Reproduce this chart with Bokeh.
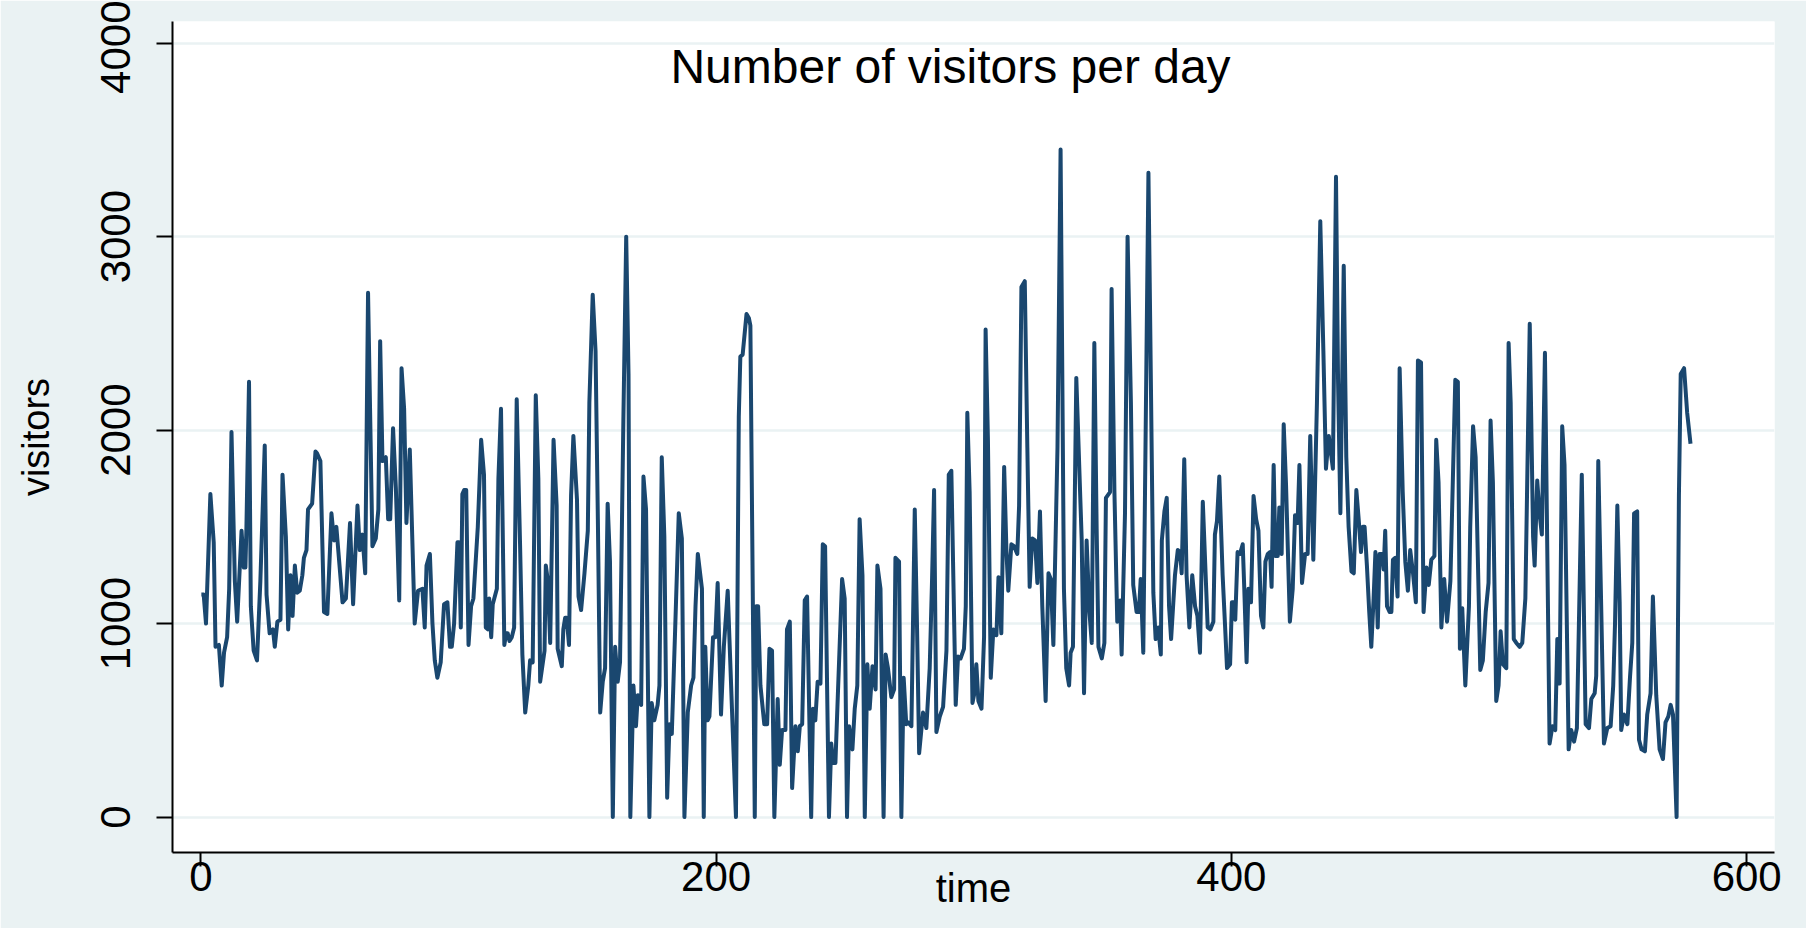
from bokeh.plotting import figure
from bokeh.models import Label, Range1d
from bokeh.embed import file_html
from bokeh.resources import INLINE

time = [0.2, 1.1, 2.0, 3.7, 5.0, 5.7, 7.0, 8.1, 9.0, 10.2, 11.0, 11.9, 13.2, 14.1, 15.8, 16.7, 17.3, 17.7, 18.7, 19.4,
        20.5, 21.8, 23.1, 24.8, 25.5, 26.7, 28.0, 28.7, 29.7, 30.9, 31.7, 33.0, 33.9, 34.8, 35.6, 36.5, 37.4, 38.4, 39.4, 40.0,
        41.0, 41.6, 43.2, 44.5, 45.1, 46.4, 47.8, 49.1, 50.7, 51.7, 52.6, 55.0, 56.3, 57.9, 59.1, 60.8, 61.7, 62.7, 63.8, 64.9,
        66.6, 67.9, 68.9, 69.6, 70.5, 71.8, 72.7, 73.5, 74.6, 75.7, 77.0, 77.9, 78.9, 79.8, 81.1, 83.0, 84.3, 86.0, 86.9, 87.6,
        88.9, 89.9, 90.8, 91.8, 93.1, 94.4, 95.7, 96.7, 97.4, 98.3, 99.6, 100.2, 100.9, 101.5, 102.2, 103.0, 103.9, 104.9, 105.8, 107.5,
        108.8, 109.9, 110.6, 111.4, 111.9, 112.7, 113.3, 114.9, 115.5, 116.5, 117.8, 118.5, 119.1, 119.8, 120.7, 121.6, 122.6, 123.9, 124.8, 125.9,
        127.1, 127.8, 128.8, 130.0, 131.0, 131.7, 133.4, 133.9, 134.7, 135.6, 136.9, 138.1, 138.5, 140.1, 140.7, 141.4, 142.0, 142.9, 143.7, 144.6,
        146.0, 146.6, 147.6, 148.9, 150.2, 150.8, 152.1, 153.2, 154.1, 155.0, 156.0, 156.9, 157.9, 158.8, 159.9, 160.8, 161.8, 162.7, 164.0, 165.1,
        166.0, 166.7, 167.9, 168.9, 169.6, 170.9, 171.8, 172.8, 174.1, 175.0, 176.0, 177.3, 178.0, 178.9, 179.9, 181.0, 181.9, 182.8, 184.1, 185.5,
        186.7, 187.7, 189.0, 190.3, 191.2, 192.0, 192.9, 194.5, 195.2, 195.8, 196.7, 197.4, 198.8, 199.7, 200.6, 201.9, 203.0, 204.5, 206.2, 207.7,
        208.8, 209.4, 210.3, 211.8, 212.7, 213.3, 215.0, 215.6, 216.3, 217.2, 218.7, 219.8, 220.7, 221.7, 222.6, 223.9, 224.7, 225.6, 226.9, 227.5,
        228.6, 229.5, 230.8, 231.7, 232.5, 233.4, 234.4, 235.3, 236.9, 237.6, 238.5, 239.4, 240.5, 241.4, 242.3, 243.8, 244.7, 245.4, 246.3, 247.3,
        248.9, 249.9, 250.8, 251.6, 252.9, 253.8, 254.8, 255.7, 256.8, 257.7, 258.7, 259.6, 260.7, 261.9, 262.6, 263.8, 265.0, 265.8, 266.7, 268.0,
        269.1, 269.6, 271.0, 271.9, 272.8, 273.8, 274.5, 275.8, 277.1, 278.0, 278.8, 280.3, 281.6, 282.9, 283.8, 284.6, 285.5, 286.8, 288.1, 289.4,
        290.3, 291.3, 293.0, 293.9, 294.9, 296.2, 296.9, 297.5, 298.4, 299.5, 300.1, 301.0, 301.8, 303.0, 304.0, 304.6, 305.5, 306.6, 307.6, 308.8,
        309.6, 310.7, 311.8, 312.7, 313.4, 314.6, 315.6, 316.9, 317.6, 318.5, 319.8, 320.8, 321.7, 322.7, 323.8, 324.7, 325.7, 326.6, 327.9, 329.0,
        329.9, 330.9, 332.5, 333.7, 335.0, 335.9, 337.0, 337.6, 338.5, 339.8, 341.9, 342.8, 343.8, 344.9, 345.8, 346.8, 347.7, 348.4, 349.7, 350.7,
        351.3, 352.9, 353.5, 354.6, 355.7, 356.8, 357.4, 358.7, 359.7, 361.0, 361.9, 363.2, 364.1, 364.8, 365.8, 367.8, 369.7, 370.6, 371.6, 372.6,
        373.0, 374.0, 374.9, 375.8, 376.6, 378.1, 379.2, 380.1, 380.7, 381.7, 382.6, 383.7, 384.8, 385.9, 386.8, 387.8, 388.9, 390.8, 391.8, 393.0,
        393.6, 394.4, 395.3, 396.6, 397.5, 398.3, 399.5, 400.2, 400.9, 401.5, 402.4, 403.3, 404.4, 405.0, 405.9, 406.6, 407.6, 408.6, 409.6, 410.5,
        411.5, 412.4, 413.2, 414.1, 415.0, 415.6, 416.4, 417.1, 418.0, 418.6, 419.5, 420.3, 421.2, 422.7, 423.8, 424.7, 425.7, 426.4, 427.4, 428.6,
        429.6, 430.6, 431.8, 433.2, 434.5, 435.7, 436.7, 437.8, 439.4, 440.6, 441.4, 442.3, 443.6, 444.6, 445.5, 446.6, 447.5, 448.5, 449.4, 450.3,
        451.0, 451.7, 452.6, 453.5, 454.3, 455.2, 455.9, 456.8, 457.5, 458.5, 459.1, 459.7, 460.4, 461.4, 462.1, 462.7, 463.6, 464.5, 465.3, 466.5,
        467.5, 468.5, 469.4, 470.5, 471.6, 472.4, 473.6, 474.6, 475.7, 476.6, 477.6, 478.8, 479.5, 480.4, 481.5, 482.6, 483.7, 485.0, 486.9, 487.9,
        488.7, 489.6, 490.8, 492.2, 492.7, 493.8, 494.8, 496.6, 497.6, 498.7, 499.8, 500.6, 501.5, 502.8, 503.7, 504.5, 505.4, 506.7, 507.6, 508.4,
        509.6, 510.6, 511.9, 512.9, 514.1, 515.8, 517.1, 517.7, 518.7, 519.6, 520.5, 521.7, 523.5, 524.6, 525.7, 526.5, 527.4, 528.4, 529.3, 530.9,
        531.9, 533.0, 534.1, 536.0, 537.5, 538.8, 539.7, 541.0, 541.6, 542.4, 544.6, 545.9, 547.2, 548.2, 548.9, 549.8, 550.7, 551.3, 552.4, 553.7,
        554.7, 555.6, 556.3, 557.5, 558.2, 559.2, 560.5, 561.4, 562.7, 563.6, 564.9, 566.2, 567.5, 568.5, 569.6, 570.5, 571.4, 572.8, 573.7, 574.4,
        575.7, 576.9, 578.2]

visitors = [1150, 1150, 1000, 1670, 1420, 880, 890, 680, 850, 930, 1180, 1990, 1220, 1010, 1480, 1290, 1290, 1500, 2250, 1090,
            860, 810, 1220, 1920, 1150, 950, 970, 880, 1010, 1020, 1770, 1450, 970, 1250, 1040, 1300, 1160, 1170, 1250, 1340,
            1380, 1590, 1620, 1890, 1880, 1840, 1060, 1050, 1570, 1430, 1500, 1110, 1130, 1520, 1100, 1610, 1380, 1460, 1260, 2710,
            1400, 1440, 1590, 2460, 1840, 1860, 1540, 1540, 2010, 1700, 1120, 2320, 2110, 1520, 1900, 1000, 1170, 1180, 980, 1300,
            1360, 1000, 810, 720, 800, 1100, 1110, 880, 880, 1000, 1420, 1420, 980, 1670, 1690, 1690, 890, 1090, 1130, 1500,
            1950, 1770, 980, 970, 1130, 930, 1100, 1180, 1750, 2110, 890, 950, 950, 910, 930, 980, 2160, 1410, 840, 540,
            680, 810, 800, 2180, 1750, 700, 860, 1300, 1220, 900, 1950, 1610, 870, 780, 970, 1030, 1030, 890, 1660, 1970,
            1640, 1140, 1070, 1260, 1480, 2140, 2700, 2410, 1540, 540, 700, 770, 1620, 1320, 0, 880, 700, 800, 2050, 3000,
            2290, 0, 680, 470, 630, 580, 1760, 1590, 0, 590, 500, 580, 680, 1860, 1450, 100, 480, 430, 970, 1570,
            1440, 0, 540, 680, 720, 1090, 1360, 1180, 0, 880, 500, 520, 930, 930, 1210, 530, 880, 1170, 540, 0,
            2070, 2380, 2390, 2600, 2580, 2540, 0, 1090, 1090, 680, 480, 480, 870, 860, 0, 610, 270, 450, 450, 970,
            1010, 150, 470, 340, 470, 480, 1120, 1140, 0, 560, 500, 700, 690, 1410, 1400, 0, 380, 280, 280, 650,
            1230, 1130, 0, 470, 350, 560, 680, 1540, 1250, 0, 790, 560, 780, 660, 1300, 1180, 0, 840, 770, 620,
            660, 1340, 1320, 0, 720, 480, 490, 470, 1590, 970, 330, 540, 460, 770, 1220, 1690, 440, 520, 570, 860,
            1770, 1790, 580, 830, 820, 870, 1090, 2090, 1680, 590, 630, 790, 600, 560, 930, 2520, 1950, 720, 970, 940,
            1240, 950, 1810, 1370, 1170, 1410, 1400, 1360, 1610, 2740, 2770, 1910, 1190, 1440, 1430, 1210, 1580, 1090, 600, 1260,
            1230, 890, 1910, 3450, 1180, 770, 680, 850, 880, 2270, 1430, 640, 1430, 1060, 900, 2450, 1490, 880, 820, 900,
            1650, 1680, 2730, 1680, 1010, 1120, 840, 1570, 3000, 2140, 1200, 1060, 1060, 1230, 850, 3330, 1160, 920, 980, 840,
            1430, 1580, 1650, 1090, 920, 1250, 1380, 1370, 1260, 1850, 1250, 980, 1250, 1090, 1040, 850, 1630, 980, 970, 1010,
            1460, 1530, 1760, 1250, 1000, 770, 790, 1110, 1110, 1020, 1370, 1360, 1410, 1180, 800, 1180, 1110, 1660, 1540, 1480,
            1040, 980, 1320, 1360, 1370, 1190, 1820, 1350, 1350, 1600, 1360, 2030, 1720, 1010, 1180, 1560, 1520, 1820, 1210, 1360,
            1360, 1970, 1330, 2140, 3080, 2410, 1800, 1970, 1800, 3310, 2250, 1570, 2850, 1860, 1500, 1270, 1260, 1690, 1540, 1370,
            1500, 1500, 1300, 1060, 880, 1130, 1370, 980, 1360, 1360, 1280, 1480, 1090, 1060, 1060, 1330, 1340, 1140, 2320, 1680,
            1320, 1170, 1380, 1260, 1110, 2360, 2350, 1060, 1290, 1200, 1330, 1350, 1950, 1730, 980, 1230, 1010, 1220, 2260, 2250,
            870, 1080, 680, 1090, 1500, 2020, 1860, 760, 810, 1060, 1210, 2050, 1730, 600, 680, 960, 790, 770, 2450, 2140,
            920, 900, 880, 900, 1130, 2550, 1450, 1300, 1740, 1570, 1460, 2400, 380, 470, 450, 920, 690, 2020, 1820, 350,
            450, 390, 460, 1770, 480, 460, 610, 640, 730, 1840, 380, 460, 470, 680, 1000, 1610, 1110, 450, 530, 480,
            720, 900, 1570, 1580, 400, 350, 340, 530, 640, 1140, 630, 350, 300, 490, 520, 580, 530, 0, 1660, 2290,
            2320, 2090, 1930]

x_ticks = [0, 200, 400, 600]
y_ticks = [0, 1000, 2000, 3000, 4000]
title_text = "Number of visitors per day"
x_title = "time"
y_title = "visitors"

BG = "#EAF2F3"
LINE = "#1A476F"
FONT = "Liberation Sans"

p = figure(width=1806, height=928, output_backend="svg", toolbar_location=None,
           x_range=Range1d(-11.0, 610.8), y_range=Range1d(-183, 4112),
           min_border_left=172, min_border_right=32, min_border_top=21, min_border_bottom=76)
p.background_fill_color = "white"
p.border_fill_color = BG
p.outline_line_color = None

p.line(time, visitors, line_color=LINE, line_width=4, line_join="round")

p.xgrid.visible = False
p.ygrid.grid_line_color = BG
p.ygrid.grid_line_width = 2.5

for ax in (p.xaxis[0], p.yaxis[0]):
    ax.axis_line_color = "black"
    ax.axis_line_width = 2
    ax.major_tick_line_color = "black"
    ax.major_tick_line_width = 2
    ax.major_tick_in = 0
    ax.minor_tick_line_color = None
    ax.major_label_text_font = FONT
    ax.major_label_text_font_size = "42px"
    ax.major_label_text_color = "black"
    ax.axis_label_text_font = FONT
    ax.axis_label_text_font_size = "40px"
    ax.axis_label_text_font_style = "normal"
    ax.axis_label_text_color = "black"

p.xaxis.ticker = x_ticks
p.yaxis.ticker = y_ticks
p.xaxis.axis_label = x_title
p.yaxis.axis_label = y_title
p.yaxis.axis_label_text_font_size = "38px"
p.xaxis.major_tick_out = 14
p.xaxis.major_label_standoff = -5
p.xaxis.axis_label_standoff = -28
p.yaxis.major_tick_out = 16
p.yaxis.major_label_orientation = "vertical"
p.yaxis.major_label_standoff = 26
p.yaxis.axis_label_standoff = 42

p.add_layout(Label(x=778, y=786, x_units="screen", y_units="screen", text=title_text,
                   text_font=FONT, text_font_size="48px", text_color="black",
                   text_align="center", text_baseline="middle"))

open("out.html", "w").write(file_html(p, INLINE))
